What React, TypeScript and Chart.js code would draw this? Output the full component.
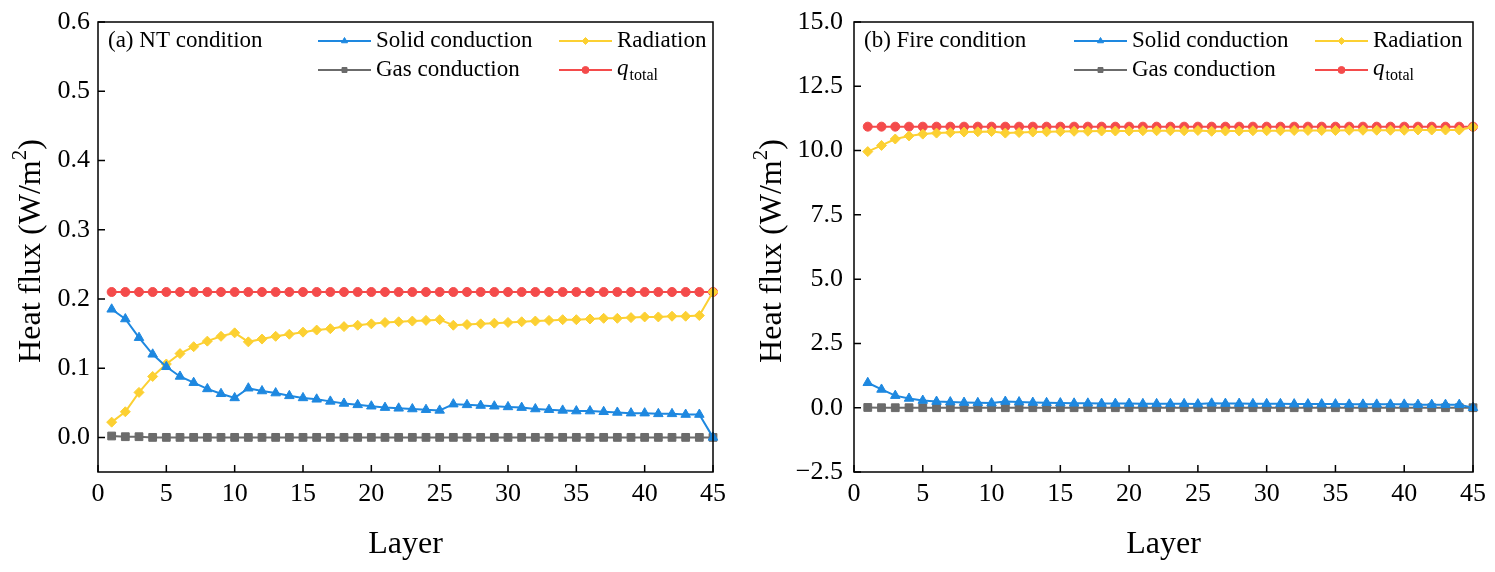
import { useEffect, useRef } from "react";
import { Chart, registerables } from "chart.js";
import { drawPoint } from "chart.js/helpers";

Chart.register(...registerables);

const SERIF = "'Liberation Serif', 'Times New Roman', serif";

// layer index on the x axis
const LAYERS = [
  1, 2, 3, 4, 5, 6, 7, 8, 9, 10, 11, 12, 13, 14, 15, 16, 17, 18, 19, 20, 21, 22, 23,
  24, 25, 26, 27, 28, 29, 30, 31, 32, 33, 34, 35, 36, 37, 38, 39, 40, 41, 42, 43, 44, 45,
];
const X_TICKS = [0, 5, 10, 15, 20, 25, 30, 35, 40, 45];

// (a) NT condition
const NT_SOLID = [
  0.185, 0.171, 0.144, 0.12, 0.102, 0.088, 0.079, 0.07, 0.063, 0.057, 0.071, 0.067,
  0.064, 0.06, 0.057, 0.055, 0.052, 0.049, 0.047, 0.045, 0.043, 0.042, 0.041, 0.04,
  0.039, 0.048, 0.047, 0.046, 0.045, 0.044, 0.043, 0.041, 0.04, 0.039, 0.038, 0.038,
  0.037, 0.036, 0.035, 0.035, 0.034, 0.034, 0.033, 0.033, 0.0,
];
const NT_GAS = [
  0.002, 0.001, 0.001, 0.0, 0.0, 0.0, 0.0, 0.0, 0.0, 0.0, 0.0, 0.0, 0.0, 0.0, 0.0,
  0.0, 0.0, 0.0, 0.0, 0.0, 0.0, 0.0, 0.0, 0.0, 0.0, 0.0, 0.0, 0.0, 0.0, 0.0, 0.0, 0.0,
  0.0, 0.0, 0.0, 0.0, 0.0, 0.0, 0.0, 0.0, 0.0, 0.0, 0.0, 0.0, 0.0,
];
const NT_RADIATION = [
  0.022, 0.037, 0.065, 0.088, 0.106, 0.121, 0.131, 0.139, 0.146, 0.151, 0.138, 0.142,
  0.146, 0.149, 0.152, 0.155, 0.157, 0.16, 0.162, 0.164, 0.166, 0.167, 0.168, 0.169,
  0.17, 0.162, 0.163, 0.164, 0.165, 0.166, 0.167, 0.168, 0.169, 0.17, 0.17, 0.171,
  0.172, 0.172, 0.173, 0.174, 0.174, 0.175, 0.175, 0.176, 0.21,
];
const NT_TOTAL = [
  0.21, 0.21, 0.21, 0.21, 0.21, 0.21, 0.21, 0.21, 0.21, 0.21, 0.21, 0.21, 0.21, 0.21,
  0.21, 0.21, 0.21, 0.21, 0.21, 0.21, 0.21, 0.21, 0.21, 0.21, 0.21, 0.21, 0.21, 0.21,
  0.21, 0.21, 0.21, 0.21, 0.21, 0.21, 0.21, 0.21, 0.21, 0.21, 0.21, 0.21, 0.21, 0.21,
  0.21, 0.21, 0.21,
];
const NT_Y_TICKS = [0, 0.1, 0.2, 0.3, 0.4, 0.5, 0.6];

// (b) Fire condition
const FIRE_SOLID = [
  0.97, 0.71, 0.47, 0.36, 0.28, 0.24, 0.22, 0.2, 0.19, 0.18, 0.24, 0.22, 0.2, 0.19,
  0.18, 0.17, 0.17, 0.16, 0.16, 0.16, 0.15, 0.15, 0.15, 0.15, 0.14, 0.17, 0.16, 0.16,
  0.15, 0.15, 0.15, 0.14, 0.14, 0.14, 0.14, 0.13, 0.13, 0.13, 0.13, 0.13, 0.12, 0.12,
  0.12, 0.12, 0.0,
];
const FIRE_GAS = [
  0.01, 0.0, 0.0, 0.0, 0.0, 0.0, 0.0, 0.0, 0.0, 0.0, 0.0, 0.0, 0.0, 0.0, 0.0, 0.0,
  0.0, 0.0, 0.0, 0.0, 0.0, 0.0, 0.0, 0.0, 0.0, 0.0, 0.0, 0.0, 0.0, 0.0, 0.0, 0.0, 0.0,
  0.0, 0.0, 0.0, 0.0, 0.0, 0.0, 0.0, 0.0, 0.0, 0.0, 0.0, 0.0,
];
const FIRE_RADIATION = [
  9.96, 10.2, 10.45, 10.57, 10.64, 10.68, 10.7, 10.72, 10.73, 10.74, 10.68, 10.7,
  10.72, 10.73, 10.74, 10.75, 10.75, 10.76, 10.76, 10.76, 10.77, 10.77, 10.77, 10.77,
  10.78, 10.75, 10.76, 10.76, 10.77, 10.77, 10.77, 10.78, 10.78, 10.78, 10.78, 10.79,
  10.79, 10.79, 10.79, 10.79, 10.8, 10.8, 10.8, 10.8, 10.92,
];
const FIRE_TOTAL = [
  10.93, 10.93, 10.93, 10.93, 10.93, 10.93, 10.93, 10.93, 10.93, 10.93, 10.93, 10.93,
  10.93, 10.93, 10.93, 10.93, 10.93, 10.93, 10.93, 10.93, 10.93, 10.93, 10.93, 10.93,
  10.93, 10.93, 10.93, 10.93, 10.93, 10.93, 10.93, 10.93, 10.93, 10.93, 10.93, 10.93,
  10.93, 10.93, 10.93, 10.93, 10.93, 10.93, 10.93, 10.93, 10.93,
];
const FIRE_Y_TICKS = [-2.5, 0, 2.5, 5, 7.5, 10, 12.5, 15];

// series look: order = solid, gas, radiation, total
const SERIES = [
  { name: "Solid conduction", color: "#1e88e0", style: "triangle", radius: 5.5, col: 0, row: 0 },
  { name: "Gas conduction", color: "#6b6b6b", style: "rect", radius: 5.5, col: 0, row: 1 },
  { name: "Radiation", color: "#fcd032", style: "rectRot", radius: 5, col: 1, row: 0 },
  { name: "q_total", color: "#f44b4b", style: "circle", radius: 4.5, col: 1, row: 1 },
];

const panelPlugin = {
  id: "panel",
  afterDraw(chart: any, _args: any, opts: any) {
    const { ctx, chartArea: a } = chart;
    const xs = chart.scales.x;
    const ys = chart.scales.y;
    ctx.save();

    // frame + inward ticks
    ctx.strokeStyle = "#000";
    ctx.lineWidth = 1.5;
    ctx.strokeRect(a.left, a.top, a.right - a.left, a.bottom - a.top);
    ctx.beginPath();
    xs.ticks.forEach((t: any) => {
      const p = xs.getPixelForValue(t.value);
      ctx.moveTo(p, a.bottom);
      ctx.lineTo(p, a.bottom - 7);
    });
    ys.ticks.forEach((t: any) => {
      const p = ys.getPixelForValue(t.value);
      ctx.moveTo(a.left, p);
      ctx.lineTo(a.left + 7, p);
    });
    ctx.stroke();

    ctx.fillStyle = "#000";
    ctx.textBaseline = "middle";

    // y title with a real superscript
    ctx.save();
    ctx.translate(opts.titleX, (a.top + a.bottom) / 2 + 4);
    ctx.rotate(-Math.PI / 2);
    ctx.font = `32px ${SERIF}`;
    const p1 = "Heat flux (W/m";
    const w1 = ctx.measureText(p1).width;
    const w3 = ctx.measureText(")").width;
    ctx.font = `21px ${SERIF}`;
    const w2 = ctx.measureText("2").width;
    let tx = -(w1 + w2 + w3) / 2;
    ctx.font = `32px ${SERIF}`;
    ctx.fillText(p1, tx, 0);
    tx += w1;
    ctx.font = `21px ${SERIF}`;
    ctx.fillText("2", tx, -12);
    tx += w2;
    ctx.font = `32px ${SERIF}`;
    ctx.fillText(")", tx, 0);
    ctx.restore();

    // panel label
    ctx.font = `23px ${SERIF}`;
    ctx.fillText(opts.label, a.left + 10, a.top + 19);

    // legend
    SERIES.forEach((s) => {
      const x0 = a.left + (s.col ? 461 : 220);
      const y0 = a.top + (s.row ? 48 : 19);
      ctx.strokeStyle = s.color;
      ctx.fillStyle = s.color;
      ctx.lineWidth = 2;
      ctx.beginPath();
      ctx.moveTo(x0, y0);
      ctx.lineTo(x0 + 53, y0);
      ctx.stroke();
      ctx.lineWidth = 1;
      drawPoint(ctx, { pointStyle: s.style, radius: 3.5, rotation: 0, borderWidth: 1 } as any, x0 + 26.5, y0);

      ctx.fillStyle = "#000";
      const lx = x0 + 58;
      if (s.name === "q_total") {
        ctx.font = `italic 23px ${SERIF}`;
        ctx.fillText("q", lx, y0 - 1);
        const w = ctx.measureText("q").width;
        ctx.font = `16px ${SERIF}`;
        ctx.fillText("total", lx + w + 1, y0 + 6);
      } else {
        ctx.font = `23px ${SERIF}`;
        ctx.fillText(s.name, lx, y0);
      }
    });
    ctx.restore();
  },
};

type PanelProps = {
  label: string;
  series: number[][];
  yMin: number;
  yMax: number;
  yTicks: number[];
  yAxisWidth: number;
  titleX: number;
  yTickPad: number;
  width: number;
  padRight: number;
};

const Panel = ({ label, series, yMin, yMax, yTicks, yAxisWidth, titleX, yTickPad, width, padRight }: PanelProps) => {
  const ref = useRef<HTMLCanvasElement | null>(null);

  useEffect(() => {
    if (!ref.current) return;
    const tickFont = { family: SERIF, size: 26 };
    const titleFont = { family: SERIF, size: 32 };

    const chart = new Chart(ref.current, {
      type: "line",
      data: {
        datasets: SERIES.map((s, i) => ({
          label: s.name,
          data: LAYERS.map((l, j) => ({ x: l, y: series[i][j] })),
          borderColor: s.color,
          backgroundColor: s.color,
          borderWidth: 2,
          pointStyle: s.style as any,
          pointRadius: s.radius,
          pointBorderWidth: 1,
          pointBorderColor: s.color,
          pointBackgroundColor: s.color,
          tension: 0,
          clip: false as any,
        })),
      },
      options: {
        responsive: false,
        animation: false,
        layout: { padding: { top: 22, right: padRight, left: 0, bottom: 0 } },
        plugins: {
          legend: { display: false },
          tooltip: { enabled: false },
          panel: { label, titleX },
        } as any,
        scales: {
          x: {
            type: "linear",
            min: 0,
            max: 45,
            afterBuildTicks: (s: any) => {
              s.ticks = X_TICKS.map((v) => ({ value: v }));
            },
            afterFit: (s: any) => {
              s.height = 100;
              s.paddingLeft = 0;
              s.paddingRight = 0;
            },
            grid: { display: false, drawTicks: false },
            border: { display: false },
            ticks: { font: tickFont, color: "#000", padding: 7, maxRotation: 0 },
            title: {
              display: true,
              text: "Layer",
              font: titleFont,
              color: "#000",
              padding: { top: 0, bottom: 8 },
            },
          },
          y: {
            type: "linear",
            min: yMin,
            max: yMax,
            afterBuildTicks: (s: any) => {
              s.ticks = yTicks.map((v) => ({ value: v }));
            },
            afterFit: (s: any) => {
              s.width = yAxisWidth;
              s.paddingTop = 0;
              s.paddingBottom = 0;
            },
            grid: { display: false, drawTicks: false },
            border: { display: false },
            ticks: {
              font: tickFont,
              color: "#000",
              padding: yTickPad,
              callback: (v: any) => Number(v).toFixed(1).replace("-", "\u2212"),
            },
            title: { display: false },
          },
        },
      },
      plugins: [panelPlugin],
    });

    return () => {
      chart.destroy();
    };
  }, [label, series, yMin, yMax, yTicks, yAxisWidth, titleX, yTickPad, padRight]);

  return <canvas ref={ref} width={width} height={572} />;
};

export default function App() {
  return (
    <div style={{ position: "absolute", left: 0, top: 0, width: 1495, height: 572, background: "#fff" }}>
      <div style={{ position: "absolute", left: 0, top: 0 }}>
        <Panel
          label="(a) NT condition"
          series={[NT_SOLID, NT_GAS, NT_RADIATION, NT_TOTAL]}
          yMin={-0.05}
          yMax={0.6}
          yTicks={NT_Y_TICKS}
          yAxisWidth={98}
          titleX={32}
          yTickPad={8}
          width={745}
          padRight={32}
        />
      </div>
      <div style={{ position: "absolute", left: 745, top: 0 }}>
        <Panel
          label="(b) Fire condition"
          series={[FIRE_SOLID, FIRE_GAS, FIRE_RADIATION, FIRE_TOTAL]}
          yMin={-2.5}
          yMax={15}
          yTicks={FIRE_Y_TICKS}
          yAxisWidth={109}
          titleX={28}
          yTickPad={11}
          width={750}
          padRight={22}
        />
      </div>
    </div>
  );
}
